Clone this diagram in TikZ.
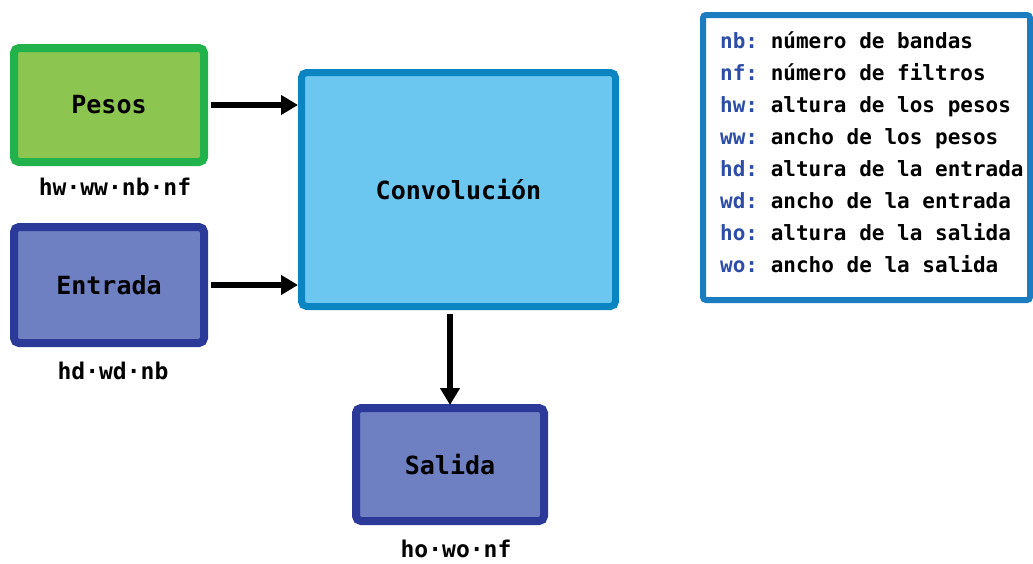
\documentclass[tikz,border=0pt]{standalone}
\usepackage{fontspec}
\setmonofont{DejaVu Sans Mono}
\usetikzlibrary{arrows.meta}
\definecolor{grB}{HTML}{22B24B}
\definecolor{grF}{HTML}{8CC550}
\definecolor{dbB}{HTML}{2B3A98}
\definecolor{dbF}{HTML}{6E80C2}
\definecolor{cvB}{HTML}{0A85C2}
\definecolor{cvF}{HTML}{6BC7EF}
\definecolor{lgB}{HTML}{1B7DC0}
\definecolor{keyC}{HTML}{2D4DA6}
\tikzset{
  box/.style={rectangle, rounded corners=5pt, line width=8pt, inner sep=0pt,
    font=\ttfamily\bfseries\fontsize{25}{30}\selectfont},
  dimlab/.style={inner sep=0pt, font=\ttfamily\bfseries\fontsize{23}{28}\selectfont},
  legtxt/.style={inner sep=0pt, anchor=mid west, font=\ttfamily\bfseries\fontsize{21}{25}\selectfont},
  conn/.style={line width=6pt, -{Triangle[length=17pt,width=19pt]}},
}
\newcommand{\kk}[1]{\textcolor{keyC}{#1}}
\begin{document}
\begin{tikzpicture}[x=1pt,y=-1pt]
\useasboundingbox (0,0) rectangle (1033,563);
\fill[white] (0,0) rectangle (1033,563);
\node[box, draw=grB, fill=grF, minimum width=190pt, minimum height=114pt] (pesos) at (109,105) {Pesos};
\node[box, draw=dbB, fill=dbF, minimum width=190pt, minimum height=116pt] (entrada) at (109,285) {Entrada};
\node[box, draw=cvB, fill=cvF, line width=7pt, minimum width=314pt, minimum height=234pt] (conv) at (458.5,189.5) {Convolución};
\node[box, draw=dbB, fill=dbF, minimum width=188pt, minimum height=113pt] (salida) at (450,464.5) {Salida};
\node[dimlab] (lp) at (115,187) {hw·ww·nb·nf};
\node[dimlab] (le) at (113,371) {hd·wd·nb};
\node[dimlab] (ls) at (456,549) {ho·wo·nf};
\node[rectangle, rounded corners=3pt, draw=lgB, fill=white, line width=6pt, minimum width=327pt, minimum height=285pt, inner sep=0pt] (legend) at (866.5,157.5) {};
\node[legtxt] (l1) at (720,46) {\kk{nb:} número de bandas};
\node[legtxt] (l2) at (720,78.1) {\kk{nf:} número de filtros};
\node[legtxt] (l3) at (720,110.1) {\kk{hw:} altura de los pesos};
\node[legtxt] (l4) at (720,142.2) {\kk{ww:} ancho de los pesos};
\node[legtxt] (l5) at (720,174.3) {\kk{hd:} altura de la entrada};
\node[legtxt] (l6) at (720,206.4) {\kk{wd:} ancho de la entrada};
\node[legtxt] (l7) at (720,238.4) {\kk{ho:} altura de la salida};
\node[legtxt] (l8) at (720,270.5) {\kk{wo:} ancho de la salida};
\draw[conn, shorten <=3pt] (pesos.east) -- (pesos.east -| conv.west);
\draw[conn, shorten <=3pt] (entrada.east) -- (entrada.east -| conv.west);
\draw[conn, shorten <=4pt, shorten >=-1pt] (salida.north |- conv.south) -- (salida.north);
\end{tikzpicture}
\end{document}
